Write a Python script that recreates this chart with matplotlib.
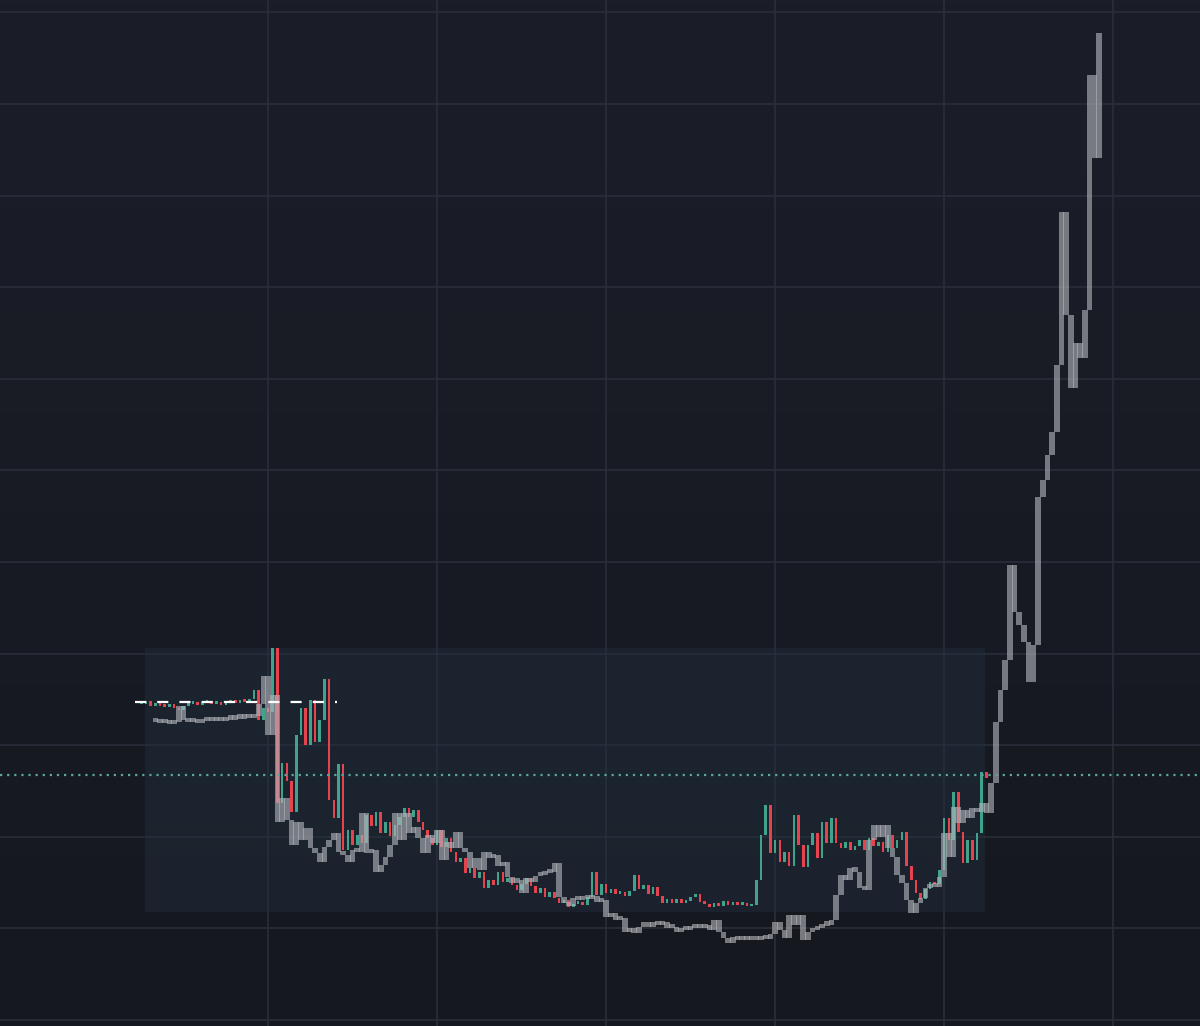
import numpy as np
import matplotlib
matplotlib.use("Agg")
import matplotlib.pyplot as plt
from matplotlib.colors import LinearSegmentedColormap

# main series (coloured candles), close per bar, open = previous close
main_close = [
    34.5, 34.8, 34.3, 34.6, 34.3, 34.2, 34.5, 34.1, 33.8, 34.3,
    34.5, 34.7, 34.4, 34.6, 34.8, 34.5, 34.7, 34.4, 34.6, 34.8,
    34.6, 34.9, 34.7, 35.0, 36.0, 32.8, 34.1, 33.6, 40.6, 23.7,
    28.1, 26.1, 22.7, 31.1, 34.1, 30.0, 34.9, 30.3, 32.8, 37.2,
    24.0, 22.1, 27.9, 18.6, 20.7, 19.1, 20.2, 19.3, 22.4, 21.2,
    22.7, 20.4, 21.6, 20.1, 21.3, 22.2, 23.1, 22.2, 22.9, 21.6,
    20.7, 19.9, 19.1, 20.7, 18.9, 19.9, 18.3, 17.2, 17.7, 16.0,
    16.6, 15.5, 16.2, 14.4, 15.3, 14.7, 16.2, 15.1, 15.5, 14.7,
    14.2, 14.8, 15.5, 14.6, 13.9, 14.4, 13.4, 14.0, 13.3, 12.8,
    13.1, 12.3, 12.7, 12.9, 12.6, 13.4, 16.2, 13.6, 14.8, 13.9,
    14.3, 13.8, 14.0, 13.5, 14.1, 15.8, 14.3, 14.7, 13.8, 14.5,
    13.5, 12.8, 13.2, 12.8, 13.2, 12.8, 13.0, 13.4, 13.8, 12.9,
    12.7, 12.3, 12.8, 12.4, 13.0, 12.6, 12.8, 12.6, 12.8, 12.4,
    12.6, 15.3, 20.2, 23.5, 18.2, 19.7, 17.2, 18.3, 16.8, 22.4,
    19.1, 16.7, 19.1, 20.4, 17.7, 21.6, 19.3, 22.1, 19.3, 18.8,
    19.4, 18.6, 19.0, 19.7, 18.6, 19.9, 19.0, 19.4, 18.3, 20.2,
    18.8, 19.7, 20.5, 16.8, 15.3, 13.9, 13.2, 14.3, 15.1, 14.8,
    16.4, 22.1, 19.7, 24.9, 20.5, 17.1, 19.7, 17.5, 20.4, 27.1,
    26.4,
]

# overlay series (grey), starts at bar 3
overlay_start = 3
overlay_close = [
    32.5, 32.4, 32.5, 32.3, 32.5, 34.3, 32.8, 32.5, 32.8, 32.4,
    32.6, 32.9, 32.6, 32.9, 32.6, 32.9, 32.8, 33.0, 32.9, 33.2,
    33.0, 33.2, 34.5, 37.6, 31.1, 35.5, 21.6, 24.2, 21.8, 19.1,
    21.6, 19.7, 21.0, 18.8, 18.2, 17.2, 18.9, 19.7, 20.4, 18.3,
    18.0, 17.2, 18.6, 18.3, 22.6, 18.2, 18.6, 16.2, 16.9, 17.8,
    19.1, 22.6, 19.7, 22.6, 20.4, 21.1, 19.9, 18.2, 20.2, 19.3,
    20.7, 17.5, 19.4, 18.8, 20.5, 18.8, 18.3, 16.6, 17.7, 16.4,
    18.3, 17.7, 18.0, 16.8, 17.2, 15.6, 15.0, 15.3, 13.9, 15.5,
    15.1, 15.7, 15.8, 16.0, 16.2, 17.1, 13.4, 12.8, 12.4, 13.3,
    13.1, 13.5, 13.2, 13.5, 12.9, 13.1, 11.2, 11.7, 10.9, 11.1,
    9.6, 10.0, 9.5, 10.2, 10.7, 10.2, 10.7, 10.4, 10.7, 10.0,
    10.2, 9.6, 10.0, 9.8, 10.0, 10.4, 10.0, 10.4, 9.8, 10.9,
    9.6, 9.0, 8.4, 9.1, 8.7, 9.1, 8.7, 9.1, 8.7, 9.2,
    8.8, 9.4, 10.7, 9.8, 9.0, 11.5, 10.4, 11.5, 8.7, 9.6,
    9.8, 10.0, 10.3, 10.4, 10.9, 13.6, 15.8, 15.3, 16.6, 16.2,
    14.4, 14.2, 19.7, 21.3, 20.0, 21.3, 18.8, 17.8, 15.8, 15.0,
    13.1, 11.7, 12.8, 13.3, 14.4, 14.7, 14.5, 15.6, 20.4, 17.8,
    23.3, 21.5, 22.9, 22.1, 23.1, 22.7, 23.7, 22.6, 25.9, 32.5,
    36.0, 39.3, 49.7, 44.5, 43.1, 41.3, 36.9, 40.9, 57.1, 59.0,
    61.7, 64.2, 71.5, 88.2, 77.0, 69.0, 73.9, 72.3, 77.5, 103.2,
    94.1, 107.8,
]

# range box, reference levels
box_x = (0.8, 179.7)
box_y = (11.8, 40.6)
entry_level = 34.7
entry_x = (-1.3, 41.7)
trigger_level = 26.75

grid_x = [27, 63, 99, 135, 171, 207]
grid_y = list(range(0, 120, 10))

up_col = "#42a38d"
down_col = "#e5444f"

fig = plt.figure(figsize=(12, 10.26), dpi=100)
ax = fig.add_axes([0, 0, 1, 1])

# background gradient
bg = LinearSegmentedColormap.from_list("bg", ["#16181f", "#1b1e29"])
ax.imshow(np.linspace(0, 1, 256).reshape(-1, 1)[::-1], cmap=bg, aspect="auto",
          extent=[0, 1, 0, 1], transform=ax.transAxes, zorder=0)

for gx in grid_x:
    ax.axvline(gx, color="#2a2e3a", lw=1.2, zorder=1)
for gy in grid_y:
    ax.axhline(gy, color="#2a2e3a", lw=1.2, zorder=1)

ax.fill_between(box_x, box_y[0], box_y[1], color="#22303f", alpha=0.45,
                lw=0, zorder=1.5)

# coloured candles
mc = np.array(main_close)
mo = np.concatenate([[mc[0]], mc[:-1]])
mx = np.arange(len(mc))
bottom = np.minimum(mo, mc)
height = np.maximum(np.abs(mc - mo), 0.3)
colors = [up_col if c >= o else down_col for o, c in zip(mo, mc)]
ax.bar(mx, height, bottom=bottom, width=0.55, color=colors, zorder=3)

# grey overlay bars
oc = np.array(overlay_close)
oo = np.concatenate([[oc[0]], oc[:-1]])
ox = np.arange(len(oc)) + overlay_start
ob = np.minimum(oo, oc)
oh = np.maximum(np.abs(oc - oo), 0.45)
ax.bar(ox, oh, bottom=ob, width=1.2, color="#b2b4ba", alpha=0.62,
       linewidth=0, zorder=4)

ax.plot(entry_x, [entry_level, entry_level], color="white", lw=1.6,
        dashes=(5, 5), zorder=5)
ax.axhline(trigger_level, color="#5aa89b", lw=1.6, ls=(0, (1, 2.2)), zorder=5)

ax.set_xlim(-30.1, 225.5)
ax.set_ylim(-0.66, 111.35)
for s in ax.spines.values():
    s.set_visible(False)
ax.set_xticks([])
ax.set_yticks([])

fig.savefig("out.png", dpi=100)
